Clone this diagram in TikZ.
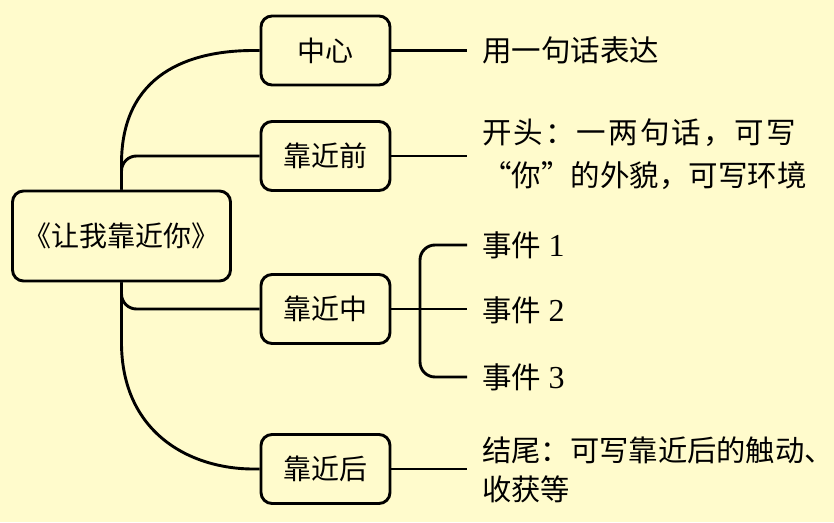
\documentclass[tikz,border=0pt]{standalone}
\usepackage{fontspec}
\setmainfont{Liberation Serif}
\newfontfamily\cjk{Noto Sans CJK SC}
\newfontfamily\cjkwide[LetterSpace=7]{Noto Sans CJK SC}
\usetikzlibrary{calc}
\definecolor{bgyellow}{RGB}{255,251,204}
\newcommand{\dig}[1]{{\fontsize{32}{35}\selectfont #1}}
\begin{document}
\begin{tikzpicture}[x=1pt,y=-1pt,
  box/.style={draw, line width=2.9pt, rounded corners=11pt, minimum width=129pt, minimum height=69pt, inner sep=0pt, font=\cjk\fontsize{28}{34}\selectfont},
  conn/.style={line width=2.9pt},
  leaf/.style={anchor=west, inner xsep=15pt, inner ysep=0pt, align=left, font=\fontsize{29.5}{35}\selectfont}]
\fill[bgyellow] (0,0) rectangle (834,522);
\useasboundingbox (0,0) rectangle (834,522);
% boxes
\node[box, minimum width=218pt, minimum height=90pt] (root) at (121.5,236) {《让我靠近你》};
\node[box] (c1) at (325.5,50.5) {中心};
\node[box] (c2) at (325.5,156) {靠近前};
\node[box] (c3) at (325.5,309) {靠近中};
\node[box] (c4) at (325.5,469) {靠近后};
% leaves
\node[leaf] (t1) at (467,50.5) {\cjk 用一句话表达};
\node[leaf, font=\fontsize{29.5}{43}\selectfont] (t2) at (467,154) {\cjkwide 开头：一两句话，可写\\\cjk “你”的外貌，可写环境};
\node[leaf] (e1) at (467,245) {{\cjk 事件} \dig{1}};
\node[leaf] (e2) at (467,310) {{\cjk 事件} \dig{2}};
\node[leaf] (e3) at (467,377) {{\cjk 事件} \dig{3}};
\node[leaf, font=\fontsize{29.3}{39}\selectfont] (t4) at (467,470) {\cjk 结尾：可写靠近后的触动、\\\cjk 收获等};
\coordinate (br) at (420,310);
% connectors from root
\draw[conn] (root.north) -- ++(0,-26) .. controls +(0,-90) and ([xshift=-70pt]c1.west) .. ([xshift=-6pt]c1.west) -- (c1.west);
\draw[conn, rounded corners=15pt] (root.north) |- (c2.west);
\draw[conn, rounded corners=15pt] (root.south) |- (c3.west);
\draw[conn] (root.south) -- ++(0,60) .. controls +(0,90) and ([xshift=-70pt]c4.west) .. ([xshift=-6pt]c4.west) -- (c4.west);
% connectors to leaves
\draw[conn] (c1.east) -- (c1.east -| t1.west);
\draw[conn] (c2.east) -- (c2.east -| t2.west);
\draw[conn] (c4.east) -- (c4.east -| t4.west);
\draw[conn] (c3.east) -- (c3.east -| e2.west);
\draw[conn, rounded corners=15pt] (e1.west) -| (br) |- (e3.west);
\end{tikzpicture}
\end{document}
